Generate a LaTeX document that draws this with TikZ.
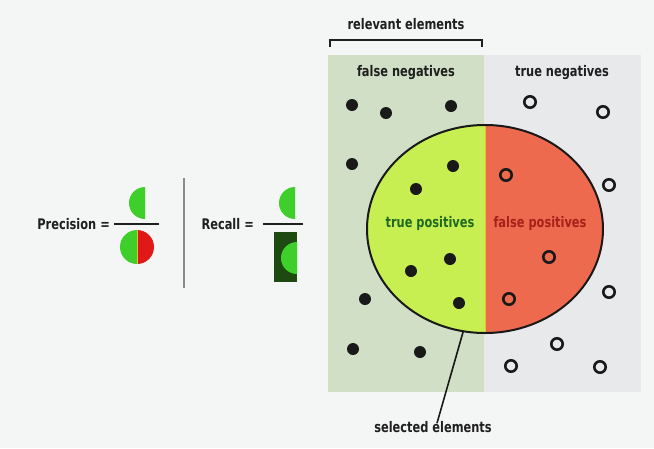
\documentclass[tikz,border=0pt]{standalone}
\usepackage{fontspec}
\setmainfont{DejaVu Sans}
\newfontfamily\lblfont[FakeStretch=0.78]{DejaVu Sans}
\usetikzlibrary{shapes.geometric}

\definecolor{bgcol}{HTML}{F4F5F5}
\definecolor{relcol}{HTML}{D0DFC6}
\definecolor{irrcol}{HTML}{E8E9EB}
\definecolor{tpcol}{HTML}{C8EF52}
\definecolor{fpcol}{HTML}{EE6A4E}
\definecolor{splitcol}{HTML}{E8C040}
\definecolor{tptext}{HTML}{1F6A1F}
\definecolor{fptext}{HTML}{A8201A}
\definecolor{hitgreen}{HTML}{3FCF2A}
\definecolor{missred}{HTML}{E01818}
\definecolor{darkgreen}{HTML}{1D4A10}
\definecolor{sepgray}{HTML}{8A8A8A}

\tikzset{
  lbl/.style={font=\lblfont\fontsize{14.6}{16}\selectfont\bfseries, inner sep=0pt, text=black!88},
  dot/.style={circle, fill=black!90, inner sep=0pt, minimum size=12pt},
  ring/.style={circle, draw=black!90, line width=2.6pt, inner sep=0pt, minimum size=11.4pt},
  panel/.style={rectangle, inner sep=0pt, anchor=north west, minimum height=337pt},
  fracbar/.style={line width=1.6pt, draw=black!88},
}

\begin{document}
\begin{tikzpicture}[x=1pt, y=-1pt]
  % canvas
  \fill[bgcol] (0,0) rectangle (654,448);
  \useasboundingbox (0,0) rectangle (654,448);

  % ---------- formulas on the left ----------
  \node[lbl, anchor=east] (prec) at (110,224) {Precision =};
  \coordinate (pbarL) at (114,224);
  \coordinate (pbarR) at (159,224);
  \draw[fracbar] (pbarL) -- (pbarR);
  % numerator: true positives (left half disc)
  \begin{scope}
    \clip (120,180) rectangle (145,225);
    \fill[hitgreen] (145,203) circle (16pt);
  \end{scope}
  % denominator: all selected elements
  \begin{scope}
    \clip (110,228) rectangle (137,270);
    \fill[hitgreen] (137,247) circle (17pt);
  \end{scope}
  \begin{scope}
    \clip (137,228) rectangle (165,270);
    \fill[missred] (137,247) circle (17pt);
  \end{scope}
  \draw[splitcol, line width=0.8pt] (137,230) -- (137,264);

  % separator
  \coordinate (sepT) at (184,178);
  \coordinate (sepB) at (184,288);
  \draw[sepgray, line width=1.6pt] (sepT) -- (sepB);

  \node[lbl, anchor=east] (rec) at (254,224) {Recall =};
  \coordinate (rbarL) at (263,224);
  \coordinate (rbarR) at (303,224);
  \draw[fracbar] (rbarL) -- (rbarR);
  % numerator: true positives
  \begin{scope}
    \clip (270,180) rectangle (295,225);
    \fill[hitgreen] (295,203) circle (16pt);
  \end{scope}
  % denominator: all relevant elements
  \fill[darkgreen] (274,232) rectangle (297,282);
  \begin{scope}
    \clip (274,232) rectangle (297,282);
    \fill[hitgreen] (297,258) circle (16pt);
  \end{scope}

  % ---------- element diagram ----------
  \node[panel, fill=relcol, minimum width=156pt] (relpanel) at (328,55) {};
  \node[panel, fill=irrcol, minimum width=157pt] (irrpanel) at (484,55) {};

  % bracket over the relevant half
  \coordinate (brL) at (330,47);
  \coordinate (brR) at (482,47);
  \draw[line width=1.6pt, black!88] (brL) -- ++(0,-7) -| (brR);
  \node[lbl] (relLabel) at (406,24) {relevant elements};

  \node[lbl] (fnLabel) at (406,73) {false negatives};
  \node[lbl] (tnLabel) at (562,73) {true negatives};

  % selected elements
  \node[ellipse, inner sep=0pt, minimum width=236pt, minimum height=208pt,
        path picture={
          \fill[tpcol] (path picture bounding box.south west) rectangle (path picture bounding box.north);
          \fill[fpcol] (path picture bounding box.south) rectangle (path picture bounding box.north east);
          \draw[splitcol, line width=1pt] (path picture bounding box.south) -- (path picture bounding box.north);
        }] (sel) at (485,229) {};
  \draw[line width=2pt, black!90] (sel.center) ellipse (118pt and 104pt);

  \node[lbl, text=tptext] (tpLabel) at (430,223) {true positives};
  \node[lbl, text=fptext] (fpLabel) at (540,223) {false positives};

  % relevant elements (filled dots)
  \node[dot] (d1) at (352,105) {};
  \node[dot] (d2) at (386,113) {};
  \node[dot] (d3) at (451,106) {};
  \node[dot] (d4) at (352,164) {};
  \node[dot] (d5) at (453,166) {};
  \node[dot] (d6) at (416,189) {};
  \node[dot] (d7) at (450,259) {};
  \node[dot] (d8) at (411,271) {};
  \node[dot] (d9) at (365,299) {};
  \node[dot] (d10) at (459,303) {};
  \node[dot] (d11) at (353,349) {};
  \node[dot] (d12) at (420,352) {};

  % irrelevant elements (rings)
  \node[ring] (r1) at (530,102) {};
  \node[ring] (r2) at (603,112) {};
  \node[ring] (r3) at (506,175) {};
  \node[ring] (r4) at (609,185) {};
  \node[ring] (r5) at (549,257) {};
  \node[ring] (r6) at (509,299) {};
  \node[ring] (r7) at (609,292) {};
  \node[ring] (r8) at (557,344) {};
  \node[ring] (r9) at (511,366) {};
  \node[ring] (r10) at (600,367) {};

  % label for the selected set
  \node[lbl] (selLabel) at (433,427) {selected elements};
  \draw[line width=1.6pt, black!90] (sel.-102) -- ([xshift=4pt, yshift=-2pt]selLabel.north);
\end{tikzpicture}
\end{document}
